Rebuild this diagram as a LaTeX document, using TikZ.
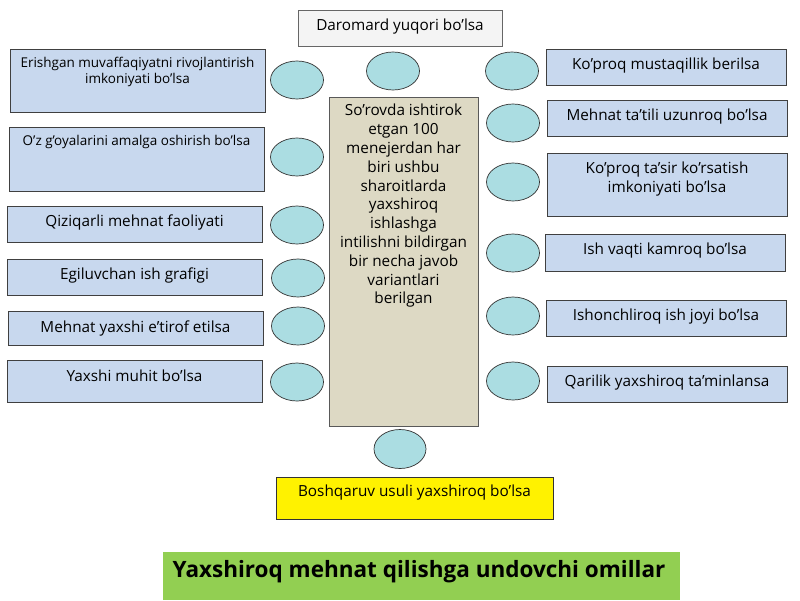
\documentclass[tikz,border=0pt]{standalone}
\usepackage{fontspec}
\setmainfont{Open Sans}
\usetikzlibrary{shapes.geometric}
\definecolor{boxblue}{HTML}{C8D8EE}
\definecolor{boxedge}{HTML}{404040}
\definecolor{centerfill}{HTML}{DDD9C4}
\definecolor{topfill}{HTML}{F4F4F4}
\definecolor{ovalfill}{HTML}{ABDDE2}
\definecolor{titlegreen}{HTML}{92CF52}
\tikzset{
  bluebox/.style={draw=boxedge, fill=boxblue, line width=0.8pt, inner sep=0pt},
  oval/.style={ellipse, draw=black!80, fill=ovalfill, line width=0.7pt, minimum width=53pt, minimum height=38pt, inner sep=0pt},
  lbl/.style={font=\fontsize{15.3}{19}\selectfont, align=center, inner sep=0pt, yshift=-2pt},
  smalllbl/.style={font=\fontsize{13.5}{16.5}\selectfont, align=center, inner sep=0pt, yshift=-2pt}
}

\begin{document}

\begin{tikzpicture}[x=1pt,y=-1pt]
\useasboundingbox (0,0) rectangle (800,600);
\fill[white] (0,0) rectangle (800,600);

% top box
\node[draw=black!60, fill=topfill, line width=0.8pt, minimum width=204pt, minimum height=36pt, inner sep=0pt] (T) at (400,28) {};
\node[lbl] (Tt) at (400,25) {Daromard yuqori bo’lsa};

% left boxes
\node[bluebox, minimum width=255pt, minimum height=63pt] (L1) at (137.5,80.5) {};
\node[smalllbl] (L1t) at (137.5,70) {Erishgan muvaffaqiyatni rivojlantirish\\imkoniyati bo’lsa};
\node[bluebox, minimum width=255pt, minimum height=64pt] (L2) at (136.5,159) {};
\node[smalllbl] (L2t) at (136.5,140) {O’z g’oyalarini amalga oshirish bo’lsa};
\node[bluebox, minimum width=255pt, minimum height=36pt] (L3) at (134.5,224) {};
\node[lbl] (L3t) at (134.5,220) {Qiziqarli mehnat faoliyati};
\node[bluebox, minimum width=255pt, minimum height=36pt] (L4) at (134.5,277) {};
\node[lbl] (L4t) at (134.5,273) {Egiluvchan ish grafigi};
\node[bluebox, minimum width=255pt, minimum height=34pt] (L5) at (135.5,328) {};
\node[lbl] (L5t) at (135.5,326) {Mehnat yaxshi e’tirof etilsa};
\node[bluebox, minimum width=255pt, minimum height=42pt] (L6) at (134.5,381) {};
\node[lbl] (L6t) at (134.5,374) {Yaxshi muhit bo’lsa};

% right boxes
\node[bluebox, minimum width=240pt, minimum height=36pt] (R1) at (666,67) {};
\node[lbl] (R1t) at (666,64) {Ko’proq mustaqillik berilsa};
\node[bluebox, minimum width=240pt, minimum height=36pt] (R2) at (667,118) {};
\node[lbl] (R2t) at (667,115) {Mehnat ta’tili uzunroq bo’lsa};
\node[bluebox, minimum width=240pt, minimum height=63pt] (R3) at (667,184.5) {};
\node[lbl] (R3t) at (667,177) {Ko’proq ta’sir ko’rsatish\\imkoniyati bo’lsa};
\node[bluebox, minimum width=240pt, minimum height=37pt] (R4) at (665,252.5) {};
\node[lbl] (R4t) at (665,249) {Ish vaqti kamroq bo’lsa};
\node[bluebox, minimum width=240pt, minimum height=36pt] (R5) at (666,318) {};
\node[lbl] (R5t) at (666,315) {Ishonchliroq ish joyi bo’lsa};
\node[bluebox, minimum width=240pt, minimum height=36pt] (R6) at (667,384) {};
\node[lbl] (R6t) at (667,381) {Qarilik yaxshiroq ta’minlansa};

% center box
\node[draw=black!65, fill=centerfill, line width=0.8pt, minimum width=149pt, minimum height=329pt, inner sep=0pt] (C) at (403.5,261.5) {};
\node[font=\fontsize{15.3}{18.8}\selectfont, align=center, inner sep=0pt, anchor=north] (Ct) at (403.5,104) {So’rovda ishtirok\\etgan 100\\menejerdan har\\biri ushbu\\sharoitlarda\\yaxshiroq\\ishlashga\\intilishni bildirgan\\bir necha javob\\variantlari\\berilgan};

% bottom yellow box
\node[draw=black!80, fill=yellow, line width=0.8pt, minimum width=277pt, minimum height=42pt, inner sep=0pt] (B) at (414.5,498) {};
\node[lbl] (Bt) at (414.5,491) {Boshqaruv usuli yaxshiroq bo’lsa};

% title
\node[fill=titlegreen, minimum width=517pt, minimum height=48pt, inner sep=0pt] (G) at (421.5,576) {};
\node[font=\fontsize{22.5}{26}\selectfont\bfseries, inner sep=0pt] (Gt) at (419,572) {Yaxshiroq mehnat qilishga undovchi omillar};

% ovals
\node[oval] (oL1) at (297,80) {};
\node[oval] (oL2) at (297,157) {};
\node[oval] (oL3) at (297,225) {};
\node[oval] (oL4) at (298,278) {};
\node[oval] (oL5) at (298,326) {};
\node[oval] (oL6) at (297,382) {};
\node[oval] (oT) at (393,71) {};
\node[oval] (oR1) at (512,71) {};
\node[oval] (oR2) at (513,123) {};
\node[oval] (oR3) at (513,182) {};
\node[oval] (oR4) at (513,253) {};
\node[oval] (oR5) at (513,316) {};
\node[oval] (oR6) at (513,381) {};
\node[oval, minimum width=52pt, minimum height=39pt] (oB) at (400,449) {};
\end{tikzpicture}

\end{document}
